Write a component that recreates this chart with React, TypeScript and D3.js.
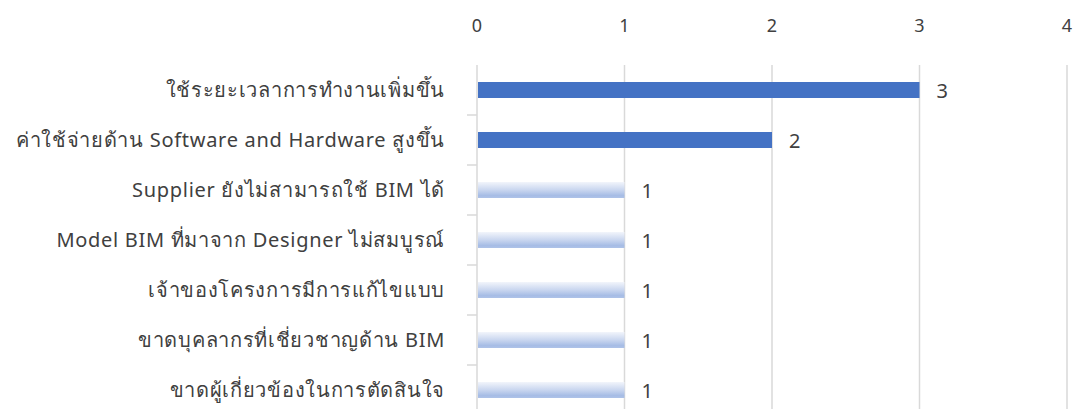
import React from "react";
import * as d3 from "d3";

const categories = [
  "ใช้ระยะเวลาการทำงานเพิ่มขึ้น",
  "ค่าใช้จ่ายด้าน Software and Hardware สูงขึ้น",
  "Supplier ยังไม่สามารถใช้ BIM ได้",
  "Model BIM ที่มาจาก Designer ไม่สมบูรณ์",
  "เจ้าของโครงการมีการแก้ไขแบบ",
  "ขาดบุคลากรที่เชี่ยวชาญด้าน BIM",
  "ขาดผู้เกี่ยวข้องในการตัดสินใจ",
];
const values = [3, 2, 1, 1, 1, 1, 1];
const solid = [true, true, false, false, false, false, false];
const xTicks = [0, 1, 2, 3, 4];

const W = 1073;
const H = 409;
const FONT = "'Noto Sans', 'Leelawadee UI', Tahoma, sans-serif";

export default function App() {
  const x = d3.scaleLinear().domain([0, 4]).range([477, 1067]);
  const y = d3.scaleBand<string>().domain(categories).range([65, 415]).paddingInner(0.68).paddingOuter(0.34);
  const bandStep = y.step();
  const grid = "#d9d9d9";
  return (
    <svg width={W} height={H} style={{ position: "absolute", left: 0, top: 0 }}>
      <defs>
        <linearGradient id="barGrad" x1="0" y1="0" x2="0" y2="1">
          <stop offset="0" stopColor="#f2f5fb" />
          <stop offset="0.5" stopColor="#c9d6ef" />
          <stop offset="0.85" stopColor="#a6bce5" />
          <stop offset="1" stopColor="#aec2e8" />
        </linearGradient>
      </defs>
      <rect width={W} height={H} fill="#fff" />
      {xTicks.map((t) => (
        <g key={t}>
          {t > 0 && <line x1={x(t)} x2={x(t)} y1={65} y2={H} stroke={grid} strokeWidth={1.5} />}
          <text x={x(t)} y={32} textAnchor="middle" fontFamily={FONT} fontSize={18} fill="#404040">
            {t}
          </text>
        </g>
      ))}
      <line x1={x(0)} x2={x(0)} y1={65} y2={H} stroke={grid} strokeWidth={1.5} />
      {categories.map((c, i) => {
        const yy = 65 + bandStep * i;
        return i > 0 ? <line key={"t" + i} x1={467} x2={x(0)} y1={yy} y2={yy} stroke={grid} strokeWidth={1.5} /> : null;
      })}
      {categories.map((c, i) => {
        const by = y(c)!;
        const bh = y.bandwidth();
        const cy = by + bh / 2;
        return (
          <g key={c}>
            <rect
              x={x(0) + 1}
              y={by}
              width={x(values[i]) - x(0) - 1}
              height={bh}
              fill={solid[i] ? "#4472c4" : "url(#barGrad)"}
            />
            <text x={x(values[i]) + 17} y={cy + 7.5} fontFamily={FONT} fontSize={20} fill="#404040">
              {values[i]}
            </text>
            <text
              x={445}
              y={cy + 7}
              textAnchor="end"
              fontFamily={FONT}
              fontSize={20}
              letterSpacing={0.7}
              fill="#404040"
            >
              {c}
            </text>
          </g>
        );
      })}
    </svg>
  );
}
